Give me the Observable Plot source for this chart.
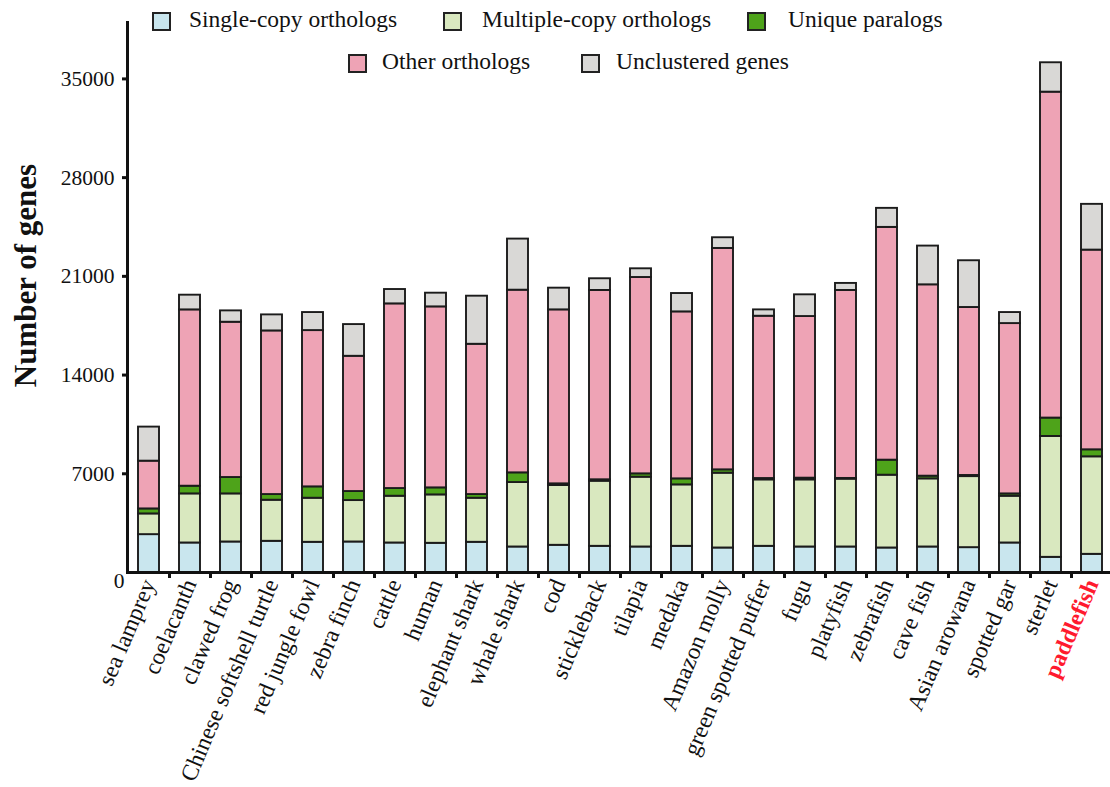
<!DOCTYPE html>
<html>
<head>
<meta charset="utf-8">
<script src="https://cdn.jsdelivr.net/npm/d3@7"></script>
<script src="https://cdn.jsdelivr.net/npm/@observablehq/plot@0.6"></script>
<style>
  body { margin: 0; background: #fff; overflow: hidden; }
  #wrap { position: relative; width: 1110px; height: 787px; font-family: "Liberation Serif", "Times New Roman", serif; }
  #wrap svg { display: block; }
  .key { position: absolute; font-size: 23.5px; line-height: 23px; white-space: nowrap; color: #111; }
  .sw { position: absolute; width: 15px; height: 15px; border: 2px solid #222; box-sizing: content-box; }
</style>
</head>
<body>
<div id="wrap"></div>
<script>
// Gene family composition per species (number of genes)
const species = [
  "sea lamprey", "coelacanth", "clawed frog", "Chinese softshell turtle", "red jungle fowl",
  "zebra finch", "cattle", "human", "elephant shark", "whale shark", "cod", "stickleback",
  "tilapia", "medaka", "Amazon molly", "green spotted puffer", "fugu", "platyfish",
  "zebrafish", "cave fish", "Asian arowana", "spotted gar", "sterlet", "paddlefish"
];
const singleCopy = [2685, 2093, 2164, 2212, 2141, 2164, 2093, 2070, 2141, 1809, 1928, 1856,
                    1809, 1856, 1738, 1856, 1809, 1809, 1738, 1809, 1762, 2093, 1075, 1288];
const multiCopy = [1469, 3481, 3410, 2912, 3125, 2937, 3315, 3433, 3125, 4570, 4238, 4618,
                   4949, 4358, 5304, 4713, 4760, 4811, 5162, 4831, 5038, 3315, 8572, 6915];
const uniqueParalogs = [355, 545, 1161, 403, 806, 639, 545, 498, 261, 687, 120, 100,
                        237, 426, 237, 95, 120, 50, 1066, 190, 80, 166, 1303, 497];
const otherOrthologs = [3386, 12503, 11011, 11603, 11082, 9591, 13095, 12834, 10656, 12953, 12337, 13426,
                        13924, 11840, 15700, 11508, 11461, 13330, 16505, 13569, 11911, 12077, 23111, 14161];
const unclustered = [2415, 1042, 805, 1137, 1279, 2249, 1018, 971, 3410, 3623, 1539, 829,
                     616, 1302, 758, 450, 1540, 498, 1350, 2747, 3315, 782, 2084, 3244];

const categories = ["Single-copy orthologs", "Multiple-copy orthologs", "Unique paralogs",
                    "Other orthologs", "Unclustered genes"];
const categoryColors = ["#c9e6ee", "#d9e8bf", "#4ea31a", "#eea3b5", "#d9d8d6"];
const yTicks = [7000, 14000, 21000, 28000, 35000];
const highlight = "paddlefish";

// long table, stacked bottom-to-top in category order
const series = [singleCopy, multiCopy, uniqueParalogs, otherOrthologs, unclustered];
const rows = [];
species.forEach((s, i) => {
  series.forEach((arr, k) => rows.push({species: s, category: categories[k], genes: arr[i]}));
});

const W = 1110, H = 787;
const mL = 127, mR = -2, mT = 22, mB = 215;
const step = (W - mL - mR) / species.length;
const serif = "Liberation Serif, Times New Roman, serif";

const chart = Plot.plot({
  width: W,
  height: H,
  marginLeft: mL,
  marginRight: mR,
  marginTop: mT,
  marginBottom: mB,
  style: {fontFamily: serif, background: "white", color: "#111", overflow: "visible"},
  x: {domain: species, paddingInner: 0.5, paddingOuter: 0.25, axis: null},
  y: {domain: [0, 39000], axis: null},
  color: {domain: categories, range: categoryColors},
  marks: [
    Plot.barY(rows, {x: "species", y: "genes", fill: "category", stroke: "#1b1b1b", strokeWidth: 1.9}),
    Plot.ruleY([0], {strokeWidth: 3, stroke: "#111"}),
    Plot.frame({anchor: "left", strokeWidth: 3, stroke: "#111"}),
    Plot.axisY({ticks: yTicks, tickSize: 5, tickPadding: 8, strokeWidth: 3, fontSize: 21.5,
                tickFormat: d => String(d), label: null}),
    Plot.axisY({ticks: [0], tickSize: 0, tickPadding: 9, fontSize: 21.5, dx: 6, dy: 9,
                tickFormat: d => String(d), label: null}),
    // tick marks sit between neighbouring bars
    Plot.axisX({ticks: species.slice(0, -1), tickSize: 6, strokeWidth: 3, dx: step / 2,
                tickFormat: () => "", label: null}),
    Plot.axisX({ticks: species.filter(s => s !== highlight), tickSize: 0, tickPadding: 8,
                tickRotate: -67, textAnchor: "end", lineAnchor: "middle", fontSize: 23.5, label: null}),
    Plot.axisX({ticks: [highlight], tickSize: 0, tickPadding: 8, tickRotate: -67, textAnchor: "end",
                lineAnchor: "middle", fontSize: 23.5, fontWeight: "bold", color: "#ff1a2e", label: null}),
    Plot.text(["Number of genes"], {frameAnchor: "left", dx: -101, dy: -22, rotate: -90,
                textAnchor: "middle", fontSize: 31, fontWeight: "bold", fill: "#111"})
  ]
});

const wrap = document.getElementById("wrap");
wrap.appendChild(chart);

// legend placed over the top of the plot area
const keySpots = [
  {sx: 152, sy: 12, tx: 189, ty: 8},
  {sx: 443, sy: 12, tx: 482, ty: 8},
  {sx: 747, sy: 12, tx: 788, ty: 8},
  {sx: 348, sy: 54, tx: 382, ty: 50},
  {sx: 581, sy: 54, tx: 616, ty: 50}
];
categories.forEach((c, k) => {
  const p = keySpots[k];
  const sw = document.createElement("div");
  sw.className = "sw";
  sw.style.left = p.sx + "px";
  sw.style.top = p.sy + "px";
  sw.style.background = categoryColors[k];
  wrap.appendChild(sw);
  const t = document.createElement("div");
  t.className = "key";
  t.style.left = p.tx + "px";
  t.style.top = p.ty + "px";
  t.textContent = c;
  wrap.appendChild(t);
});
</script>
</body>
</html>
